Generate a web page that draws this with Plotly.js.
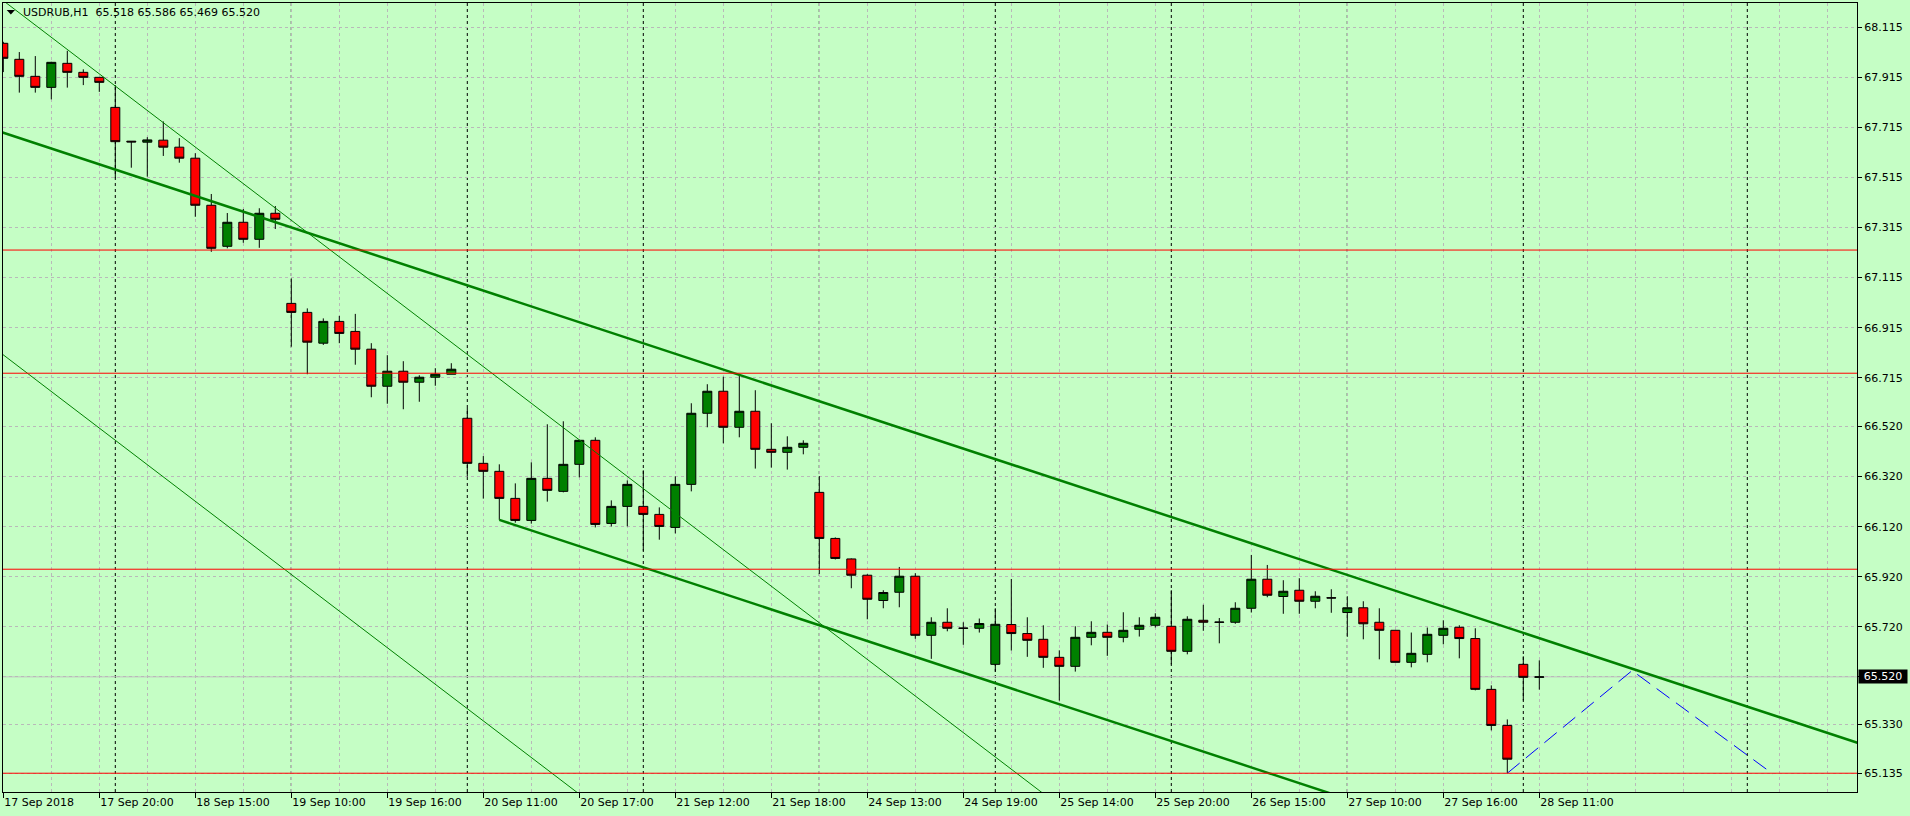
<!DOCTYPE html>
<html><head><meta charset="utf-8">
<script src="https://cdn.plot.ly/plotly-3.0.1.min.js"></script>
<style>html,body{margin:0;padding:0;background:#C5FEC5;overflow:hidden}#chart{width:1910px;height:816px}</style>
</head><body><div id="chart"></div>
<script>
// ---- data (USDRUB H1) ----
const opens = [68.051,67.987,67.919,67.875,67.971,67.935,67.915,67.795,67.660,67.656,
67.664,67.636,67.592,67.404,67.240,67.336,67.268,67.372,67.012,66.976,
66.853,66.940,66.900,66.829,66.681,66.741,66.697,66.717,66.729,66.553,
66.373,66.341,66.233,66.145,66.313,66.261,66.369,66.465,66.133,66.201,
66.201,66.169,66.117,66.289,66.573,66.661,66.517,66.581,66.429,66.417,
66.437,66.257,66.073,65.991,65.926,65.825,65.858,65.922,65.686,65.738,
65.715,65.714,65.570,65.729,65.693,65.670,65.598,65.562,65.678,65.698,
65.678,65.710,65.726,65.722,65.622,65.746,65.739,65.738,65.794,65.910,
65.841,65.866,65.822,65.836,65.777,65.796,65.738,65.706,65.578,65.610,
65.686,65.718,65.673,65.470,65.326,65.570,65.518];
const highs = [68.057,68.016,68.000,67.977,68.021,67.947,67.915,67.884,67.660,67.676,
67.739,67.672,67.612,67.449,67.373,67.389,67.392,67.401,67.112,66.992,
66.952,66.962,66.970,66.853,66.805,66.781,66.725,66.753,66.773,66.594,
66.402,66.369,66.293,66.377,66.529,66.541,66.467,66.477,66.225,66.305,
66.345,66.197,66.321,66.613,66.689,66.719,66.726,66.665,66.533,66.481,
66.465,66.322,66.077,65.993,65.930,65.866,65.959,65.934,65.758,65.794,
65.738,65.753,65.794,65.911,65.758,65.726,65.626,65.722,65.742,65.729,
65.778,65.758,65.774,65.866,65.762,65.808,65.755,65.818,66.007,65.967,
65.906,65.914,65.862,65.870,65.842,65.822,65.794,65.706,65.697,65.717,
65.746,65.726,65.714,65.486,65.350,65.602,65.586];
const lows = [67.936,67.854,67.854,67.827,67.874,67.884,67.857,67.512,67.554,67.518,
67.601,67.574,67.358,67.218,67.232,67.254,67.234,67.309,66.839,66.729,
66.846,66.853,66.767,66.637,66.611,66.589,66.619,66.683,66.729,66.320,
66.232,66.147,66.136,66.132,66.220,66.257,66.317,66.117,66.121,66.121,
66.024,66.068,66.093,66.261,66.517,66.453,66.477,66.352,66.356,66.348,
66.409,65.931,65.989,65.874,65.750,65.794,65.798,65.672,65.592,65.702,
65.648,65.697,65.541,65.625,65.600,65.556,65.425,65.541,65.646,65.604,
65.658,65.681,65.717,65.570,65.610,65.704,65.654,65.732,65.777,65.838,
65.772,65.772,65.794,65.776,65.680,65.670,65.590,65.578,65.558,65.578,
65.650,65.594,65.466,65.306,65.135,65.426,65.469];
const closes = [67.991,67.919,67.875,67.975,67.935,67.915,67.895,67.658,67.657,67.665,
67.636,67.592,67.404,67.232,67.336,67.268,67.372,67.348,66.976,66.857,
66.940,66.892,66.829,66.681,66.741,66.697,66.717,66.729,66.749,66.373,
66.341,66.233,66.145,66.313,66.265,66.369,66.465,66.129,66.201,66.289,
66.169,66.121,66.289,66.573,66.661,66.517,66.581,66.429,66.417,66.437,
66.453,66.073,65.993,65.926,65.830,65.857,65.922,65.686,65.738,65.714,
65.714,65.733,65.730,65.693,65.666,65.598,65.562,65.678,65.698,65.678,
65.706,65.726,65.758,65.622,65.750,65.738,65.738,65.794,65.910,65.846,
65.862,65.822,65.842,65.835,65.796,65.732,65.706,65.578,65.614,65.690,
65.714,65.673,65.470,65.326,65.191,65.518,65.520];

const timeTickBars = [0,6,12,18,24,30,36,42,48,54,60,66,72,78,84,90,96];
const timeTickLabels = ['17 Sep 2018','17 Sep 20:00','18 Sep 15:00','19 Sep 10:00','19 Sep 16:00',
 '20 Sep 11:00','20 Sep 17:00','21 Sep 12:00','21 Sep 18:00','24 Sep 13:00','24 Sep 19:00',
 '25 Sep 14:00','25 Sep 20:00','26 Sep 15:00','27 Sep 10:00','27 Sep 16:00','28 Sep 11:00'];
const priceTickLabels = ['68.115','67.915','67.715','67.515','67.315','67.115','66.915','66.715',
 '66.520','66.320','66.120','65.920','65.720','65.520','65.330','65.135'];
const priceTickValues = priceTickLabels.map(Number);

const daySeparatorBars = [7,18,29,40,51,62,73,84,95,109];
const levelPrices = [67.225,66.733,65.950,65.135];
const bidPrice = 65.520;
const titleText = 'USDRUB,H1\u00a0\u00a065.518\u00a065.586\u00a065.469\u00a065.520';

const channelUpperX = [-1,117],  channelUpperY = [67.715,65.233];
const channelLowerX = [31,117],  channelLowerY = [66.147,64.338];
const steepLineX = [-1,70],      steepLineY = [68.270,64.810];
const steepLine2X = [-1,45],     steepLine2Y = [66.855,64.613];
const projectionX = [94,101.8,110.6], projectionY = [65.135,65.545,65.132];

// ---- drawing ----
const BG = '#C5FEC5', GRID = '#B9B9B9', FONT = 'DejaVu Sans';
const bars = opens.map((_, i) => i);
const PL = 3, PR = 1857, PT = 3, PB = 792;
const px = x => (x - PL) / (PR - PL);
const py = y => (PB - y) / (PB - PT);

const traces = [
 {type:'candlestick', x:bars, open:opens, high:highs, low:lows, close:closes,
  line:{width:1}, whiskerwidth:0, hoverinfo:'skip',
  increasing:{line:{color:'#000000', width:1}, fillcolor:'#008000'},
  decreasing:{line:{color:'#000000', width:1}, fillcolor:'#FF0000'}},
 {type:'scatter', mode:'lines', x:steepLineX, y:steepLineY, line:{color:'#008000', width:1}, hoverinfo:'skip'},
 {type:'scatter', mode:'lines', x:steepLine2X, y:steepLine2Y, line:{color:'#008000', width:1}, hoverinfo:'skip'},
 {type:'scatter', mode:'lines', x:channelUpperX, y:channelUpperY, line:{color:'#008000', width:2.5}, hoverinfo:'skip'},
 {type:'scatter', mode:'lines', x:channelLowerX, y:channelLowerY, line:{color:'#008000', width:2.5}, hoverinfo:'skip'},
 {type:'scatter', mode:'lines', x:projectionX, y:projectionY, line:{color:'#0000FF', width:1, dash:'16px,8px'}, hoverinfo:'skip'}
];

const shapes = [];
daySeparatorBars.forEach(b => shapes.push({type:'line', xref:'x', yref:'paper', x0:b, x1:b, y0:0, y1:1,
  line:{color:'#000000', width:1, dash:'3px,3px'}, layer:'below'}));
shapes.push({type:'line', xref:'paper', yref:'y', x0:0, x1:1, y0:bidPrice, y1:bidPrice,
  line:{color:'#C0C0C0', width:1}, layer:'below'});
levelPrices.forEach(p => shapes.push({type:'line', xref:'paper', yref:'y', x0:0, x1:1, y0:p, y1:p,
  line:{color:'#FF0000', width:1}, layer:'above'}));
// small title triangle
shapes.push({type:'path', xref:'paper', yref:'paper',
  path:`M ${px(6.7)},${py(10)} L ${px(15)},${py(10)} L ${px(10.85)},${py(14.5)} Z`,
  fillcolor:'#000000', line:{width:0}});

const annotations = [
 {xref:'paper', yref:'paper', x:px(21), y:py(12.5), xanchor:'left', yanchor:'middle', showarrow:false,
  text:titleText, font:{family:FONT, size:11, color:'#000000'}},
 {xref:'paper', yref:'y', x:px(1858), y:bidPrice, xanchor:'left', yanchor:'middle', showarrow:false,
  text:'65.520', bgcolor:'#000000', width:46, height:11, borderpad:1, align:'center',
  font:{family:FONT, size:11, color:'#FFFFFF'}}
];

const axisCommon = {showline:true, mirror:true, linecolor:'#000000', linewidth:1, zeroline:false,
  fixedrange:true, tickcolor:'#000000', tickwidth:1, ticks:'outside',
  showgrid:true, gridcolor:GRID, gridwidth:1, griddash:'3px,3px',
  tickfont:{family:FONT, size:11, color:'#000000'}};

const layout = {
 width:1910, height:816,
 margin:{l:PL, r:1910-PR, t:PT, b:816-PB, pad:0},
 paper_bgcolor:BG, plot_bgcolor:BG, showlegend:false,
 boxgap:0.4375, boxgroupgap:0,
 xaxis:Object.assign({}, axisCommon, {
   type:'linear', range:[-0.019,115.856], tickmode:'array', tickvals:timeTickBars, ticktext:timeTickLabels,
   ticklen:5, ticklabelposition:'outside right', rangeslider:{visible:false},
   minor:{tickmode:'linear', tick0:0, dtick:3, showgrid:true, gridcolor:GRID, gridwidth:1, griddash:'3px,3px', ticks:''}
 }),
 yaxis:Object.assign({}, axisCommon, {
   side:'right', range:[65.060,68.212], tickmode:'array', tickvals:priceTickValues, ticktext:priceTickLabels,
   ticklen:4
 }),
 shapes:shapes, annotations:annotations
};

Plotly.newPlot('chart', traces, layout, {staticPlot:true, displayModeBar:false});
</script></body></html>
